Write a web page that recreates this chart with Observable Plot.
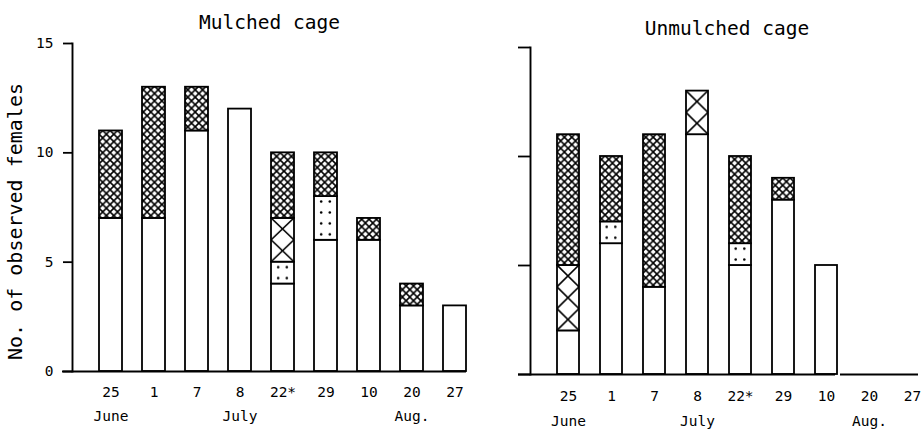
<!DOCTYPE html>
<html><head><meta charset="utf-8">
<script src="https://cdn.jsdelivr.net/npm/d3@7"></script>
<script src="https://cdn.jsdelivr.net/npm/@observablehq/plot@0.6"></script>
<style>
body{margin:0;background:#fff;}
#wrap{position:relative;width:924px;height:432px;display:flex;align-items:flex-start;}
</style></head><body><div id="wrap"></div>
<script>
// categories (sampling dates) and tick labels
const dates = ["25","1","7","8","22*","29","10","20","27"];
const months = ["June","July","Aug."];
const monthAt = ["25","8","20"];
const yTicks = [0,5,10,15];
const yLabel = "No. of observed females";
const titles = ["Mulched cage","Unmulched cage"];
// four classes of females, stacked bottom to top
const seriesNames = ["class 1","class 2","class 3","class 4"];
// Mulched cage
const mulched1 = [7,7,11,12,4,6,6,3,3];
const mulched2 = [0,0,0,0,1,2,0,0,0];
const mulched3 = [0,0,0,0,2,0,0,0,0];
const mulched4 = [4,6,2,0,3,2,1,1,0];
// Unmulched cage (no observations on Aug. 20, 27)
const unmulched1 = [2,6,4,11,5,8,5,null,null];
const unmulched2 = [0,1,0,0,1,0,0,null,null];
const unmulched3 = [3,0,0,2,0,0,0,null,null];
const unmulched4 = [6,3,7,0,4,1,0,null,null];

function rowsOf(seriesArrays){
  const rows = [];
  dates.forEach((d,i)=>{
    seriesArrays.forEach((arr,s)=>{
      if (arr[i] > 0) rows.push({date:d, series:seriesNames[s], value:arr[i]});
    });
  });
  return rows;
}

function panel(o){
  const key = o.key;
  const rows = rowsOf(o.series);
  const marks = [
    Plot.barY(rows, {x:"date", y:"value", fill:"series", stroke:"black", strokeWidth:1.8}),
    Plot.frame({anchor:"left", strokeWidth:1.9}),
    ...o.rules,
    Plot.axisX({tickSize:0, tickPadding:o.tickPad, fontSize:14.5, label:null}),
    Plot.axisY({ticks:yTicks, tickSize:o.yTickSize, tickPadding:10, label:null, fontSize:14.5,
      strokeWidth:1.8, tickFormat: o.showY ? (d=>String(d)) : (()=>"")}),
    Plot.text(months.map((m,i)=>({m, at:monthAt[i]})), {x:"at", text:"m", frameAnchor:"bottom", dy:o.monthDy, fontSize:14.5}),
    Plot.text([o.title], {frameAnchor:"top", lineAnchor:"bottom", dy:o.titleDy, fontSize:19.5})
  ];
  if (o.showY) marks.push(Plot.text([yLabel], {frameAnchor:"left", textAnchor:"middle", rotate:-90, dx:-57, dy:14, fontSize:20}));
  const plot = Plot.plot({
    width:o.width, height:432,
    marginLeft:o.marginLeft, marginRight:o.marginRight, marginTop:o.marginTop, marginBottom:o.marginBottom,
    style:{fontFamily:"'DejaVu Sans Mono', monospace", fontSize:"14.5px", background:"white", overflow:"visible"},
    x:{domain:dates, paddingInner:o.pi, paddingOuter:o.po, align:1},
    y:{domain:[0,15]},
    color:{domain:seriesNames, range:["white", `url(#dot${key})`, `url(#coarse${key})`, `url(#fine${key})`]},
    marks
  });
  const xs = plot.scale("x"), ys = plot.scale("y");
  const x0 = xs.apply(dates[0]), step = xs.step, bw = xs.bandwidth;
  const y0 = ys.apply(0), uh = ys.apply(0) - ys.apply(1);
  const defs = d3.select(plot).insert("defs", ":first-child");
  // coarse X: one X per unit
  const pc = defs.append("pattern").attr("id", "coarse"+key).attr("patternUnits","userSpaceOnUse")
    .attr("x", x0).attr("y", y0).attr("width", step).attr("height", uh);
  pc.append("rect").attr("width", bw).attr("height", uh).attr("fill","white");
  pc.append("path").attr("d", `M0,0L${bw},${uh}M0,${uh}L${bw},0`).attr("stroke","black").attr("stroke-width",1.6).attr("fill","none");
  // fine crosshatch
  const s = 7.4;
  const pf = defs.append("pattern").attr("id", "fine"+key).attr("patternUnits","userSpaceOnUse")
    .attr("x", x0).attr("y", y0).attr("width", s).attr("height", s);
  pf.append("rect").attr("width", s).attr("height", s).attr("fill","white");
  pf.append("path").attr("d", `M-1,-1L${s+1},${s+1}M-1,${s+1}L${s+1},-1`).attr("stroke","black").attr("stroke-width",1.6).attr("fill","none");
  // dots: two columns, two rows per unit
  const ph = uh/2;
  const pd = defs.append("pattern").attr("id", "dot"+key).attr("patternUnits","userSpaceOnUse")
    .attr("x", x0).attr("y", y0).attr("width", step).attr("height", ph);
  pd.append("rect").attr("width", bw).attr("height", ph).attr("fill","white");
  [-4.3, 4.3].forEach(dx => pd.append("circle").attr("cx", bw/2+dx).attr("cy", ph/2).attr("r", 1.3).attr("fill","black"));
  return plot;
}

const wrap = document.getElementById("wrap");
wrap.append(panel({
  key:"L", title:titles[0], series:[mulched1,mulched2,mulched3,mulched4],
  width:468, marginLeft:72, marginRight:2, marginTop:43, marginBottom:61,
  pi:0.476, po:0.2255, showY:true, yTickSize:9, tickPad:15, monthDy:49, titleDy:-15,
  rules:[Plot.ruleY([0], {insetLeft:-10, strokeWidth:1.9})]
}));
wrap.append(panel({
  key:"R", title:titles[1], series:[unmulched1,unmulched2,unmulched3,unmulched4],
  width:456, marginLeft:62, marginRight:1, marginTop:47, marginBottom:58,
  pi:0.485, po:0.239, showY:false, yTickSize:12, tickPad:16, monthDy:51, titleDy:-13,
  rules:[Plot.ruleY([0], {insetLeft:-12, insetRight:88, strokeWidth:1.9}),
         Plot.ruleY([0], {insetLeft:310, insetRight:5, strokeWidth:1.9})]
}));
</script></body></html>
